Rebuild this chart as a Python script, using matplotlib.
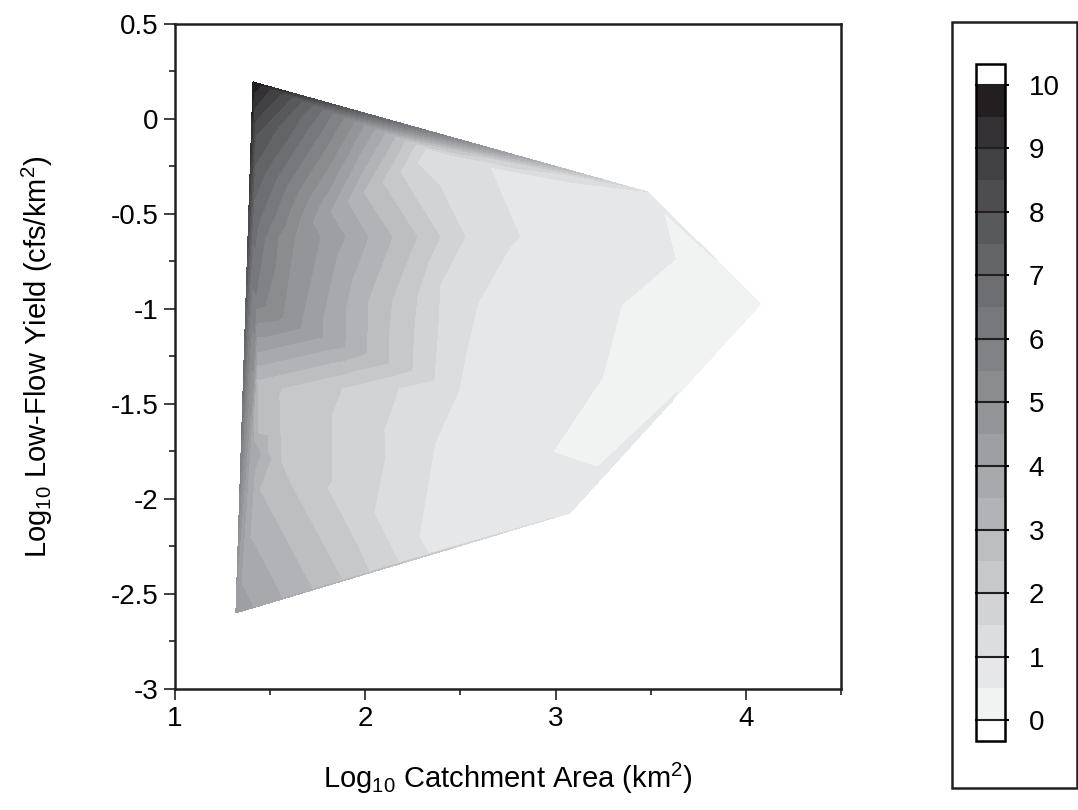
import numpy as np
import matplotlib
matplotlib.use('Agg')
import matplotlib.pyplot as plt
import matplotlib.tri as mtri
from matplotlib.patches import Rectangle

plt.rcParams['font.family'] = ['Liberation Sans', 'DejaVu Sans']
plt.rcParams['mathtext.fontset'] = 'custom'
plt.rcParams['mathtext.rm'] = 'Liberation Sans'
plt.rcParams['mathtext.it'] = 'Liberation Sans'

# corner stations of the sampled domain (x = log10 area, y = log10 yield, z = value)
corner_x = [1.410, 3.484, 4.078, 3.075, 1.320, 2.392]
corner_y = [0.195, -0.384, -0.974, -2.074, -2.600, -0.195]
corner_z = [9.9, 0.98, 0.2, 0.85, 4.2, 1.2]

# a few interior readings inside the wide light band
inner_x = [3.20, 2.98, 2.87, 2.70, 2.70, 2.95]
inner_y = [-0.55, -1.00, -1.45, -1.85, -2.10, -0.40]
inner_z = [0.75, 0.75, 0.75, 0.8, 0.85, 0.9]

# points read along the band edges of the picture, grouped by value
iso_z = [0.499, 1.0, 1.5, 2.0, 2.5, 3.0, 3.5, 4.0, 4.5, 5.0, 5.5, 6.0, 6.5, 7.0, 7.5, 8.0, 8.5, 9.0, 9.5]
iso_pts = [
    [(3.568, -0.489), (3.631, -0.737), (3.348, -0.979), (3.248, -1.358), (2.985, -1.753), (3.222, -1.832), (3.642, -1.437)],
    [(3.075, -0.332), (2.654, -0.253), (2.812, -0.621), (2.759, -0.674), (2.591, -0.968), (2.539, -1.189),
     (2.492, -1.426), (2.366, -1.705), (2.282, -2.200), (2.334, -2.288)],
    [(2.318, -0.153), (2.271, -0.232), (2.523, -0.621), (2.392, -0.874), (2.381, -1.111), (2.360, -1.374),
     (2.176, -1.416), (2.098, -1.637), (2.103, -1.779), (2.045, -2.074), (2.176, -2.335)],
    [(2.266, -0.132), (2.182, -0.279), (2.392, -0.621), (2.271, -0.937), (2.255, -1.111), (2.245, -1.321),
     (1.877, -1.416), (1.825, -1.547), (1.825, -1.900), (1.798, -1.942), (2.019, -2.383)],
    [(2.208, -0.111), (2.087, -0.332), (2.271, -0.621), (2.140, -0.953), (2.124, -1.111), (2.124, -1.284),
     (1.562, -1.416), (1.546, -1.453), (1.551, -1.630), (1.557, -1.811), (1.877, -2.425)],
    [(2.155, -0.095), (1.987, -0.389), (2.140, -0.621), (2.014, -0.953), (2.008, -1.232), (1.431, -1.374),
     (1.436, -1.660), (1.441, -1.953), (1.720, -2.472)],
    [(2.103, -0.074), (1.903, -0.437), (2.014, -0.621), (1.893, -1.200), (1.431, -1.295), (1.420, -1.705),
     (1.394, -2.200), (1.562, -2.519)],
    [(2.045, -0.053), (1.814, -0.489), (1.893, -0.621), (1.777, -1.147), (1.431, -1.226), (1.394, -1.742),
     (1.347, -2.442), (1.404, -2.560)],
    [(1.993, -0.032), (1.720, -0.542), (1.762, -0.621), (1.657, -1.100), (1.431, -1.147)],
    [(1.940, -0.011), (1.630, -0.616), (1.541, -1.058), (1.431, -1.074)],
    [(1.888, 0.011), (1.541, -0.621), (1.473, -0.984), (1.425, -1.000)],
    [(1.830, 0.032), (1.473, -0.621), (1.425, -0.926)],
    [(1.777, 0.053), (1.431, -0.584)],
    [(1.725, 0.074), (1.415, -0.426)],
    [(1.667, 0.095), (1.420, -0.242)],
    [(1.614, 0.116), (1.425, -0.084)],
    [(1.562, 0.137)],
    [(1.499, 0.158)],
    [(1.452, 0.179)],
]

levels = np.arange(0, 10.01, 0.5)
grays = ['#f1f2f2', '#e6e7e8', '#dcddde', '#d1d3d4', '#c7c8ca', '#bcbec0', '#b1b3b6', '#a7a9ac',
         '#9d9fa2', '#939598', '#8a8c8e', '#808285', '#77787b', '#6d6e71', '#636466', '#58595b',
         '#4d4d4f', '#414042', '#333133', '#231f20']

xs = list(corner_x) + list(inner_x)
ys = list(corner_y) + list(inner_y)
zs = list(corner_z) + list(inner_z)
for v, pts in zip(iso_z, iso_pts):
    for px, py in pts:
        xs.append(px)
        ys.append(py)
        zs.append(v)

tri = mtri.Triangulation(xs, ys)

fig = plt.figure(figsize=(10.78, 8.10), dpi=100)
ax = fig.add_axes([0.1623, 0.1494, 0.6178, 0.8210])
cs = ax.tricontourf(tri, zs, levels=levels, colors=['white'] + grays + ['white'], extend='both')

ax.set_xlim(1, 4.5)
ax.set_ylim(-3, 0.5)
ax.set_xticks([1, 2, 3, 4])
ax.set_xticklabels(['1', '2', '3', '4'])
ax.set_xticks([1.5, 2.5, 3.5, 4.5], minor=True)
ax.set_yticks(np.arange(-3, 0.51, 0.5))
ax.set_yticklabels(['-3', '-2.5', '-2', '-1.5', '-1', '-0.5', '0', '0.5'])
ax.set_yticks(np.arange(-2.75, 0.5, 0.5), minor=True)
ax.tick_params(which='major', length=8, width=1.2, labelsize=20, pad=4, color='#231f20')
ax.tick_params(which='minor', length=4, width=1.2, color='#231f20')
for s in ax.spines.values():
    s.set_linewidth(1.8)
    s.set_color('#231f20')
ax.set_xlabel(r'Log$_{10}$ Catchment Area (km$^2$)', fontsize=21, labelpad=21)
ax.set_ylabel(r'Log$_{10}$ Low-Flow Yield (cfs/km$^2$)', fontsize=21, labelpad=40)

# colour key in its own frame
fig.patches.append(Rectangle((0.8831, 0.0272), 0.1160, 0.9457, transform=fig.transFigure,
                             fill=False, lw=1.8, ec='#231f20'))
cax = fig.add_axes([0.9054, 0.0852, 0.0269, 0.8358])
cb = fig.colorbar(cs, cax=cax, extendrect=True, extendfrac=0.033)
cb.set_ticks(range(0, 11))
cb.outline.set_linewidth(1.8)
for v in range(0, 11):
    cax.axhline(v, color='#231f20', lw=1.5, clip_on=False)
cax.tick_params(length=3, width=1.5, labelsize=20, pad=14)

fig.savefig('out.png', dpi=100)
